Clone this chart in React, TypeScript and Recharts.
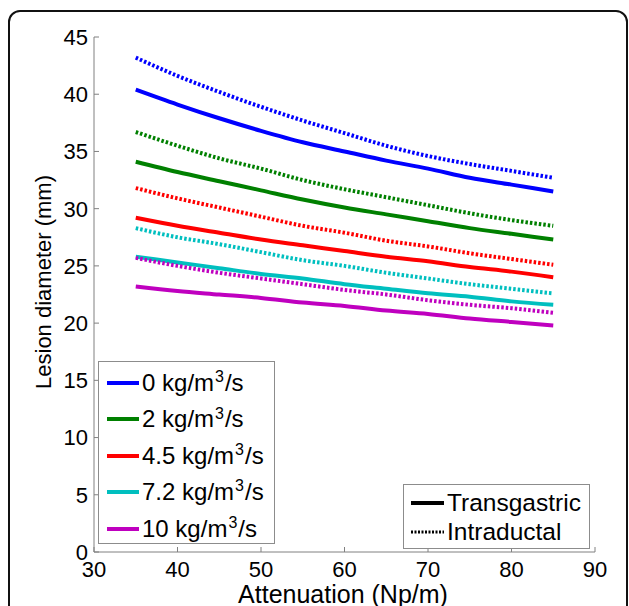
import React from "react";
import { LineChart, Line, XAxis, YAxis } from "recharts";

// attenuation (Np/m) sampled along each curve
const attenuation = [35, 40, 45, 50, 55, 60, 65, 70, 75, 80, 85];

// lesion diameter (mm), transgastric approach (solid lines)
const transgastric0 = [40.4, 39.1, 37.9, 36.8, 35.8, 35.0, 34.2, 33.5, 32.7, 32.1, 31.5];
const transgastric2 = [34.1, 33.2, 32.4, 31.6, 30.8, 30.1, 29.5, 28.9, 28.3, 27.8, 27.3];
const transgastric45 = [29.2, 28.5, 27.9, 27.3, 26.8, 26.3, 25.8, 25.4, 24.9, 24.5, 24.0];
const transgastric72 = [25.8, 25.3, 24.8, 24.3, 23.9, 23.4, 23.0, 22.6, 22.3, 21.9, 21.6];
const transgastric10 = [23.2, 22.8, 22.5, 22.2, 21.8, 21.5, 21.1, 20.8, 20.4, 20.1, 19.8];

// lesion diameter (mm), intraductal approach (dotted lines)
const intraductal0 = [43.2, 41.6, 40.2, 38.9, 37.7, 36.6, 35.5, 34.6, 33.9, 33.3, 32.7];
const intraductal2 = [36.7, 35.5, 34.4, 33.5, 32.5, 31.7, 31.0, 30.3, 29.6, 29.0, 28.5];
const intraductal45 = [31.8, 30.9, 30.1, 29.3, 28.5, 27.9, 27.2, 26.7, 26.1, 25.6, 25.1];
const intraductal72 = [28.3, 27.5, 26.9, 26.2, 25.5, 25.0, 24.4, 23.9, 23.4, 23.0, 22.6];
const intraductal10 = [25.7, 25.0, 24.4, 23.9, 23.4, 22.9, 22.5, 22.0, 21.6, 21.3, 20.9];

const perfusion = ["0", "2", "4.5", "7.2", "10"];
const xTicks = [30, 40, 50, 60, 70, 80, 90];
const yTicks = [0, 5, 10, 15, 20, 25, 30, 35, 40, 45];

const transgastric = [transgastric0, transgastric2, transgastric45, transgastric72, transgastric10];
const intraductal = [intraductal0, intraductal2, intraductal45, intraductal72, intraductal10];

const colors = ["#0000ff", "#008000", "#ff0000", "#00bfbf", "#bf00bf"];
const axisGray = "#808080";
const font = "'Liberation Sans', Arial, sans-serif";
const dots = "2.5 2";

const data = attenuation.map((x, i) => {
    const row: any = { x };
    perfusion.forEach((_, k) => {
        row[`t${k}`] = transgastric[k][i];
        row[`d${k}`] = intraductal[k][i];
    });
    return row;
});

const TICK = 5;

function YTick({ x, y, payload }: any) {
    const ax = x + TICK; // axis line position
    return (
        <g>
            <text x={x - 1} y={y} dy="0.36em" textAnchor="end" fontSize={22} fill="#000" fontFamily={font}>
                {payload.value}
            </text>
            <line x1={ax} x2={ax + 5} y1={y} y2={y} stroke={axisGray} />
        </g>
    );
}

function XTick({ x, y, payload }: any) {
    const ay = y - TICK - 4;
    return (
        <g>
            <text x={x} y={y} dy="0.72em" textAnchor="middle" fontSize={22} fill="#000" fontFamily={font}>
                {payload.value}
            </text>
            <line x1={x} x2={x} y1={ay} y2={ay - 5} stroke={axisGray} />
        </g>
    );
}

function Unit({ v }: { v: string }) {
    return (
        <span>
            {v} kg/m<sup style={{ fontSize: 16, verticalAlign: "0.55em", lineHeight: 0, margin: "0 1px" }}>3</sup>/s
        </span>
    );
}

export default function App() {
    return (
        <div
            style={{
                position: "absolute",
                left: 0,
                top: 0,
                width: 629,
                height: 606,
                overflow: "hidden",
                background: "#fff",
                fontFamily: font,
                color: "#000",
            }}
        >
            <div
                style={{
                    position: "absolute",
                    left: 8,
                    top: 10,
                    width: 616,
                    height: 640,
                    border: "2px solid #111",
                    borderRadius: 12,
                }}
            />
            <LineChart
                width={629}
                height={606}
                data={data}
                margin={{ top: 37, right: 34, bottom: 0, left: 0 }}
                style={{ position: "absolute", left: 0, top: 0 }}
            >
                <XAxis
                    dataKey="x"
                    type="number"
                    domain={[30, 90]}
                    ticks={xTicks}
                    height={54}
                    tickSize={TICK}
                    tickMargin={4}
                    tickLine={false}
                    stroke={axisGray}
                    tick={<XTick />}
                    interval={0}
                />
                <YAxis
                    type="number"
                    domain={[0, 45]}
                    ticks={yTicks}
                    width={94}
                    tickSize={TICK}
                    tickMargin={0}
                    tickLine={false}
                    stroke={axisGray}
                    tick={<YTick />}
                    interval={0}
                />
                {perfusion.map((p, k) => (
                    <Line
                        key={`t${k}`}
                        type="monotone"
                        dataKey={`t${k}`}
                        stroke={colors[k]}
                        strokeWidth={4}
                        dot={false}
                        activeDot={false}
                        isAnimationActive={false}
                    />
                ))}
                {perfusion.map((p, k) => (
                    <Line
                        key={`d${k}`}
                        type="monotone"
                        dataKey={`d${k}`}
                        stroke={colors[k]}
                        strokeWidth={4}
                        strokeDasharray={dots}
                        dot={false}
                        activeDot={false}
                        isAnimationActive={false}
                    />
                ))}
            </LineChart>

            <div
                style={{
                    position: "absolute",
                    left: 44,
                    top: 282,
                    transform: "translate(-50%, -50%) rotate(-90deg)",
                    whiteSpace: "nowrap",
                    fontSize: 22,
                    lineHeight: "22px",
                }}
            >
                Lesion diameter (mm)
            </div>
            <div
                style={{
                    position: "absolute",
                    left: 343,
                    top: 582,
                    transform: "translateX(-50%)",
                    whiteSpace: "nowrap",
                    fontSize: 25,
                    lineHeight: "24px",
                }}
            >
                Attenuation (Np/m)
            </div>

            {/* perfusion legend */}
            <div
                style={{
                    position: "absolute",
                    left: 98,
                    top: 361,
                    width: 175,
                    height: 181,
                    border: "1px solid #8c8c8c",
                    background: "#fff",
                }}
            >
                {perfusion.map((p, k) => (
                    <div
                        key={p}
                        style={{
                            position: "absolute",
                            left: 8,
                            top: 21 + k * 36.4 - 12,
                            height: 24,
                            display: "flex",
                            alignItems: "center",
                            whiteSpace: "nowrap",
                            fontSize: 24,
                        }}
                    >
                        <span style={{ width: 32, height: 4, background: colors[k], marginRight: 3 }} />
                        <Unit v={p} />
                    </div>
                ))}
            </div>

            {/* approach legend */}
            <div
                style={{
                    position: "absolute",
                    left: 403,
                    top: 484,
                    width: 185,
                    height: 63,
                    border: "1px solid #8c8c8c",
                    background: "#fff",
                }}
            >
                {["Transgastric", "Intraductal"].map((name, k) => (
                    <div
                        key={name}
                        style={{
                            position: "absolute",
                            left: 7,
                            top: 18 + k * 29 - 12,
                            height: 24,
                            display: "flex",
                            alignItems: "center",
                            whiteSpace: "nowrap",
                            fontSize: 24.5,
                        }}
                    >
                        <svg width={33} height={4} style={{ marginRight: 3 }}>
                            <line
                                x1={0}
                                x2={33}
                                y1={2}
                                y2={2}
                                stroke="#000"
                                strokeWidth={k === 0 ? 4 : 3}
                                strokeDasharray={k === 0 ? undefined : "2 1.5"}
                            />
                        </svg>
                        {name}
                    </div>
                ))}
            </div>
        </div>
    );
}
